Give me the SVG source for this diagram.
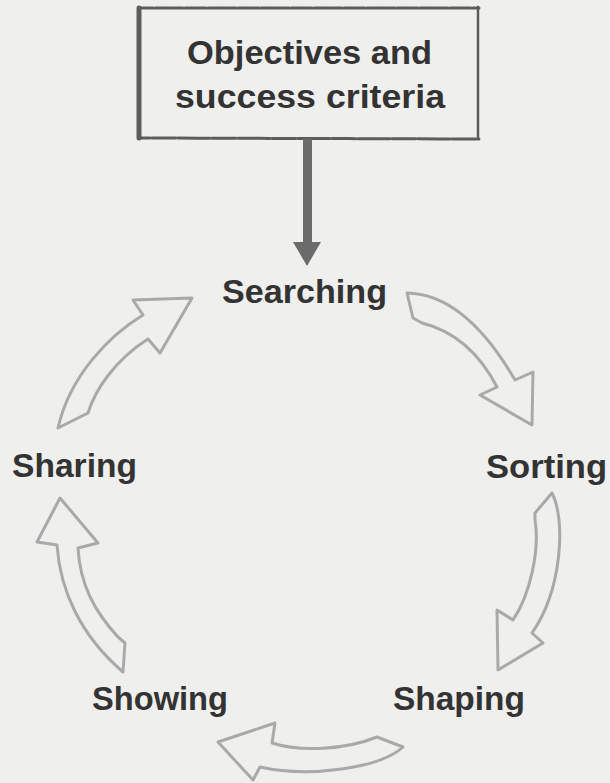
<svg xmlns="http://www.w3.org/2000/svg" width="610" height="783" viewBox="0 0 610 783">
  <style>
    .label { font-family: "Liberation Sans", Arial, sans-serif; font-weight: bold; font-size: 34px; fill: #333333; }
    .cycle { fill: none; stroke: #a9a9a9; stroke-width: 3; stroke-linejoin: round; stroke-linecap: round; }
    .frame { fill: none; stroke: #5c5c5c; stroke-linecap: round; }
  </style>

  <rect x="0" y="0" width="610" height="783" fill="#efefed"/>

  <!-- heading box -->
  <g id="objectives">
    <line class="frame" x1="139" y1="8" x2="479" y2="8" stroke-width="3" stroke-dasharray="14 2 9 1 18 2 6 1"/>
    <line class="frame" x1="139" y1="138" x2="479" y2="139" stroke-width="3" stroke-dasharray="11 2 16 1 7 2 20 1"/>
    <line class="frame" x1="139" y1="8" x2="139" y2="138" stroke-width="5" stroke="#666666"/>
    <line class="frame" x1="478" y1="7" x2="478" y2="139" stroke-width="2.5"/>
    <text class="label" x="187" y="64" textLength="245" lengthAdjust="spacingAndGlyphs">Objectives and</text>
    <text class="label" x="175" y="108" textLength="270" lengthAdjust="spacingAndGlyphs">success criteria</text>
  </g>

  <!-- cycle stages -->
  <g id="searching"><text class="label" x="222" y="303" textLength="165" lengthAdjust="spacingAndGlyphs">Searching</text></g>
  <g id="sorting"><text class="label" x="486" y="478" textLength="121" lengthAdjust="spacingAndGlyphs">Sorting</text></g>
  <g id="shaping"><text class="label" x="393" y="710" textLength="132" lengthAdjust="spacingAndGlyphs">Shaping</text></g>
  <g id="showing"><text class="label" x="92" y="710" textLength="136" lengthAdjust="spacingAndGlyphs">Showing</text></g>
  <g id="sharing"><text class="label" x="12" y="477" textLength="125" lengthAdjust="spacingAndGlyphs">Sharing</text></g>

  <!-- connectors -->
  <g id="connectors">
    <!-- box to Searching -->
    <path d="M303,139 L312,139 L312,242 L321,242 L307,266 L293,242 L303,242 Z" fill="#6b6b6b"/>
    <!-- Searching to Sorting -->
    <path class="cycle" d="M407,293 Q465,294 515,380 L533,372 L532,425 L480,395 L497,387 Q470,335 422,323 L413,318 Z"/>
    <!-- Sorting to Shaping -->
    <path class="cycle" d="M552,493 C566,520 562,590 532,633 L543,643 L498,670 L497,610 L513,620 C530,595 540,550 535,520 L535,513 Z"/>
    <!-- Shaping to Showing -->
    <path class="cycle" d="M377,737 L403,747 C380,768 310,778 260,767 L253,780 L218,742 L275,723 L272,743 C300,752 345,750 377,737 Z"/>
    <!-- Showing to Sharing -->
    <path class="cycle" d="M123,672 L125,643 L118,637 C95,612 80,585 78,548 L98,543 L60,498 L37,542 L57,545 C60,590 80,635 123,672 Z"/>
    <!-- Sharing to Searching -->
    <path class="cycle" d="M58,428 L88,413 C95,390 115,360 148,339 L160,353 L192,298 L133,300 L143,315 C110,335 70,375 58,428 Z"/>
  </g>
</svg>
